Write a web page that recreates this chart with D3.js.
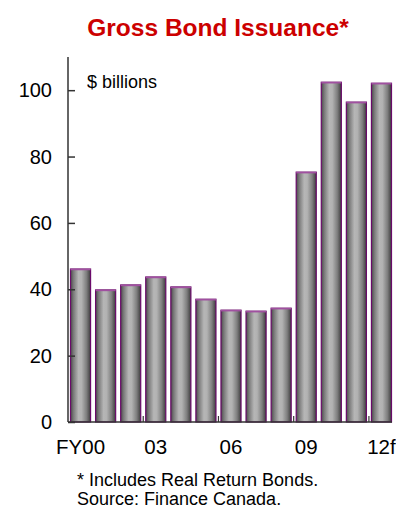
<!DOCTYPE html>
<html><head><meta charset="utf-8">
<script src="https://cdn.jsdelivr.net/npm/d3@7"></script>
<style>body{margin:0;background:#fff}svg{display:block;font-family:Arial,"Liberation Sans",sans-serif}</style>
</head><body><svg id="c" width="396" height="509"></svg>
<script>
const categories = ["FY00","01","02","03","04","05","06","07","08","09","10","11","12f"];
const values = [46.1, 39.8, 41.3, 43.7, 40.7, 37.0, 33.7, 33.4, 34.3, 75.3, 102.4, 96.4, 102.1];
const yTicks = [0, 20, 40, 60, 80, 100];
const xLabels = ["FY00","03","06","09","12f"];

const svg = d3.select("#c");
const pLeft = 68, pRight = 394, pTop = 57, pBottom = 422;
const x = d3.scaleBand().domain(categories).range([pLeft, pRight]).paddingInner(0.2).paddingOuter(0.1);
const y = d3.scaleLinear().domain([0, 110]).range([pBottom, pTop]);

const defs = svg.append("defs");
const g = defs.append("linearGradient").attr("id","bar").attr("x1","0").attr("x2","1").attr("y1","0").attr("y2","0");
[[0,"#4a4a4a"],[0.15,"#7a7a7a"],[0.4,"#b6b6b6"],[0.55,"#b2b2b2"],[0.8,"#7e7e7e"],[1,"#3c3c3c"]]
  .forEach(([o,c])=>g.append("stop").attr("offset",o).attr("stop-color",c));

svg.append("text").attr("x",218).attr("y",36).attr("text-anchor","middle")
  .attr("font-size",24.5).attr("font-weight","bold").attr("fill","#cc0000").text("Gross Bond Issuance*");

// bars
const bars = svg.append("g");
bars.selectAll("rect").data(categories).join("rect")
  .attr("x", d=>x(d)).attr("width", x.bandwidth())
  .attr("y", (d,i)=>y(values[i])).attr("height",(d,i)=>pBottom - y(values[i]))
  .attr("fill","url(#bar)").attr("stroke","#6a0a6a").attr("stroke-width",1.2);
bars.selectAll("line").data(categories).join("line")
  .attr("x1", d=>x(d)).attr("x2", d=>x(d)+x.bandwidth())
  .attr("y1",(d,i)=>y(values[i])+0.5).attr("y2",(d,i)=>y(values[i])+0.5)
  .attr("stroke","#a050a0").attr("stroke-width",1.5);

// y axis
const yAxis = svg.append("g").attr("transform",`translate(${pLeft},0)`)
  .call(d3.axisRight(y).tickValues(yTicks).tickSize(7).tickFormat(""));
yAxis.select(".domain").remove();
yAxis.selectAll(".tick line").attr("stroke","#333").attr("stroke-width",1.5);
svg.append("line").attr("x1",pLeft).attr("x2",pLeft).attr("y1",pTop).attr("y2",pBottom).attr("stroke","#333").attr("stroke-width",1.5);
svg.append("g").selectAll("text").data(yTicks).join("text")
  .attr("x",52).attr("y",d=>y(d)+7).attr("text-anchor","end").attr("font-size",20).attr("fill","#000").text(d=>d);

// x axis
svg.append("line").attr("x1",pLeft).attr("x2",pRight-2).attr("y1",pBottom).attr("y2",pBottom).attr("stroke","#333").attr("stroke-width",1.5);
const step = x.step();
const boundaries = [3,6,9,12].map(i=>x(categories[i]) - step*x.paddingInner()/2);
svg.append("g").selectAll("line").data(boundaries).join("line")
  .attr("x1",d=>d).attr("x2",d=>d).attr("y1",pBottom).attr("y2",pBottom-6).attr("stroke","#333").attr("stroke-width",1.2);
svg.append("g").selectAll("text").data(xLabels).join("text")
  .attr("x",d=>x(d)+x.bandwidth()/2).attr("y",454).attr("text-anchor","middle").attr("font-size",20.5).attr("fill","#000").text(d=>d);

svg.append("text").attr("x",87).attr("y",88).attr("font-size",18).attr("fill","#000").text("$ billions");
svg.append("text").attr("x",77).attr("y",486).attr("font-size",18).attr("fill","#000").text("* Includes Real Return Bonds.");
svg.append("text").attr("x",77).attr("y",505).attr("font-size",18).attr("fill","#000").text("Source: Finance Canada.");
</script></body></html>
